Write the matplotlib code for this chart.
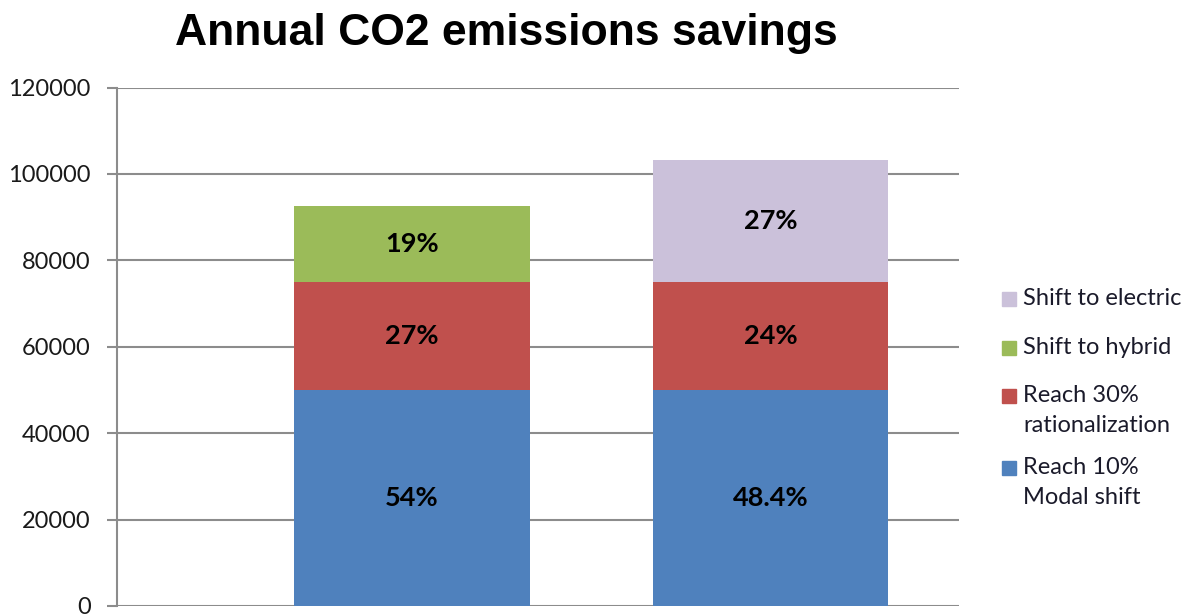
import numpy as np
import matplotlib.pyplot as plt
from matplotlib.patches import Rectangle

# Annual CO2 savings per scenario, stacked by measure
scenarios = ['Hybrid scenario', 'Electric scenario']
modal_shift = [50000, 50000]
rationalization = [25000, 25000]
hybrid = [17600, 0]
electric = [0, 28300]

modal_labels = ['54%', '48.4%']
ration_labels = ['27%', '24%']
hybrid_labels = ['19%', '']
electric_labels = ['', '27%']

yticks = [0, 20000, 40000, 60000, 80000, 100000, 120000]

legend_names = ['Shift to electric', 'Shift to hybrid',
                'Reach 30%\nrationalization', 'Reach 10%\nModal shift']

c_blue = '#4F81BD'
c_red = '#C0504D'
c_green = '#9BBB59'
c_lilac = '#CBC1DA'

plt.rcParams['font.family'] = ['Lato', 'DejaVu Sans']

W, H = 1189, 614
fig = plt.figure(figsize=(W / 100, H / 100), dpi=100)


def fx(px):
    return px / W


def fy(py):
    return 1 - py / H


ax = fig.add_axes([fx(117), fy(606), fx(959 - 117), (606 - 87.6) / H])

x = np.arange(len(scenarios))
w = 0.658
bottom = np.zeros(len(x))
series = [
    (modal_shift, c_blue, modal_labels),
    (rationalization, c_red, ration_labels),
    (hybrid, c_green, hybrid_labels),
    (electric, c_lilac, electric_labels),
]
for vals, col, labs in series:
    vals = np.array(vals, dtype=float)
    ax.bar(x, vals, w, bottom=bottom, color=col, zorder=3)
    for xi, b, v, lab in zip(x, bottom, vals, labs):
        if v > 0 and lab:
            ax.text(xi, b + v / 2, lab, ha='center', va='center',
                    fontsize=19.5, fontweight='bold', color='black', zorder=4)
    bottom += vals

ax.set_xlim(-0.823, 1.526)
ax.set_ylim(0, 120000)
ax.set_yticks(yticks)
ax.set_yticklabels([str(t) for t in yticks])
ax.set_xticks([])
ax.yaxis.grid(True, color='#8C8C8C', linewidth=1.5, zorder=0)
ax.tick_params(axis='y', length=7, width=1.5, color='#8C8C8C', pad=12,
               labelsize=17, labelcolor='#1a1a1a')
for s in ['top', 'right', 'bottom']:
    ax.spines[s].set_visible(False)
ax.spines['left'].set_color('#8C8C8C')
ax.spines['left'].set_linewidth(1.5)

fig.text(fx(506), fy(33), 'Annual CO2 emissions savings',
         ha='center', va='center', fontsize=32, fontweight='bold',
         family='Liberation Sans')

# legend drawn by hand so the row spacing follows the chart's layout
legend_colors = [c_lilac, c_green, c_red, c_blue]
legend_rows = [298, 347, 395, 467]
for name, col, row in zip(legend_names, legend_colors, legend_rows):
    fig.patches.append(Rectangle((fx(1002), fy(row + 8)), fx(14), 14 / H,
                                 color=col, transform=fig.transFigure, figure=fig))
    fig.text(fx(1023), fy(row - 10), name, ha='left', va='top', fontsize=17,
             color='#1a1a2a', linespacing=1.55)

fig.savefig('out.png', dpi=100)
